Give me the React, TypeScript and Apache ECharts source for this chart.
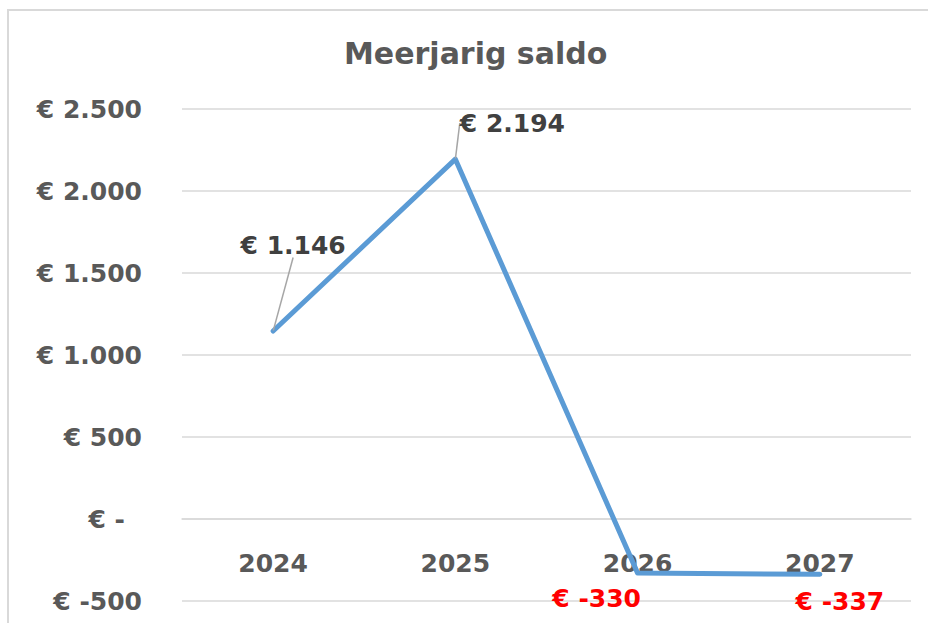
import React, { useEffect, useRef } from "react";
import * as echarts from "echarts";

const categories = ["2024", "2025", "2026", "2027"];
const saldo = [1146, 2194, -330, -337];
const yTicks = [-500, 0, 500, 1000, 1500, 2000, 2500];
const title = "Meerjarig saldo";

const FONT = "DejaVu Sans";

function fmt(v: number): string {
  if (v === 0) return "€ -";
  const s = Math.abs(Math.round(v)).toString().replace(/\B(?=(\d{3})+(?!\d))/g, ".");
  return "€ " + (v < 0 ? "-" : "") + s;
}

const labelOffsets = [
  [20, -86],
  [57, -36],
  [-41, 25],
  [20, 27],
];

export default function App() {
  const ref = useRef<HTMLDivElement>(null);
  useEffect(() => {
    if (!ref.current) return;
    const chart = echarts.init(ref.current, undefined, { renderer: "svg" });
    const gridTop = 109;
    const gridBottom = 22;
    const plotH = 623 - gridTop - gridBottom;
    const yMin = yTicks[0];
    const yMax = yTicks[yTicks.length - 1];
    // distance of the zero line above the bottom of the plot area
    const zeroOffset = ((0 - yMin) / (yMax - yMin)) * plotH;
    chart.setOption({
      animation: false,
      backgroundColor: "#ffffff",
      title: {
        text: title,
        left: 339,
        top: 33,
        textStyle: { fontFamily: FONT, fontSize: 30, fontWeight: "bold", color: "#595959" },
      },
      graphic: [
        {
          type: "rect",
          shape: { x: 8, y: 10, width: 940, height: 640 },
          style: { fill: "none", stroke: "#D9D9D9", lineWidth: 2 },
          silent: true,
        },
      ],
      grid: {
        left: 182,
        right: 17,
        top: gridTop,
        bottom: gridBottom,
        containLabel: false,
        outerBoundsMode: "none",
      },
      xAxis: {
        type: "category",
        data: categories,
        position: "bottom",
        offset: -zeroOffset,
        boundaryGap: true,
        axisLine: { show: true, onZero: false, lineStyle: { color: "#D9D9D9", width: 1.5 } },
        axisTick: { show: false },
        axisLabel: { margin: 32, fontFamily: FONT, fontSize: 25, fontWeight: "bold", color: "#595959" },
        splitLine: { show: false },
      },
      yAxis: {
        type: "value",
        min: yMin,
        max: yMax,
        interval: 500,
        axisLine: { show: false },
        axisTick: { show: false },
        splitLine: { show: true, lineStyle: { color: "#D9D9D9", width: 1.5 } },
        axisLabel: {
          margin: 40,
          fontFamily: FONT,
          fontSize: 25,
          fontWeight: "bold",
          color: "#595959",
          formatter: (v: number) => (v === 0 ? "{z|€ -}" : fmt(v)),
          rich: {
            z: { fontFamily: FONT, fontSize: 25, fontWeight: "bold", color: "#595959", padding: [0, 17, 0, 0] },
          },
        },
      },
      series: [
        {
          type: "line",
          data: saldo.map((v) => ({
            value: v,
            label: v < 0 ? { color: "#FF0000" } : undefined,
            labelLine: { show: v >= 0 },
          })),
          symbol: "circle",
          symbolSize: 1,
          showSymbol: true,
          itemStyle: { color: "#5B9BD5" },
          lineStyle: { color: "#5B9BD5", width: 5, cap: "round", join: "round" },
          label: {
            show: true,
            position: "inside",
            fontFamily: FONT,
            fontSize: 25,
            fontWeight: "bold",
            color: "#404040",
            formatter: (p: any) => fmt(p.value),
          },
          labelLine: { show: true, lineStyle: { color: "#A6A6A6", width: 1.5 } },
          labelLayout: (p: any) => ({
            dx: labelOffsets[p.dataIndex][0],
            dy: labelOffsets[p.dataIndex][1],
          }),
        },
      ],
    });
    return () => chart.dispose();
  }, []);
  return (
    <div
      ref={ref}
      style={{ position: "fixed", left: 0, top: 0, width: 928, height: 623 }}
    />
  );
}
